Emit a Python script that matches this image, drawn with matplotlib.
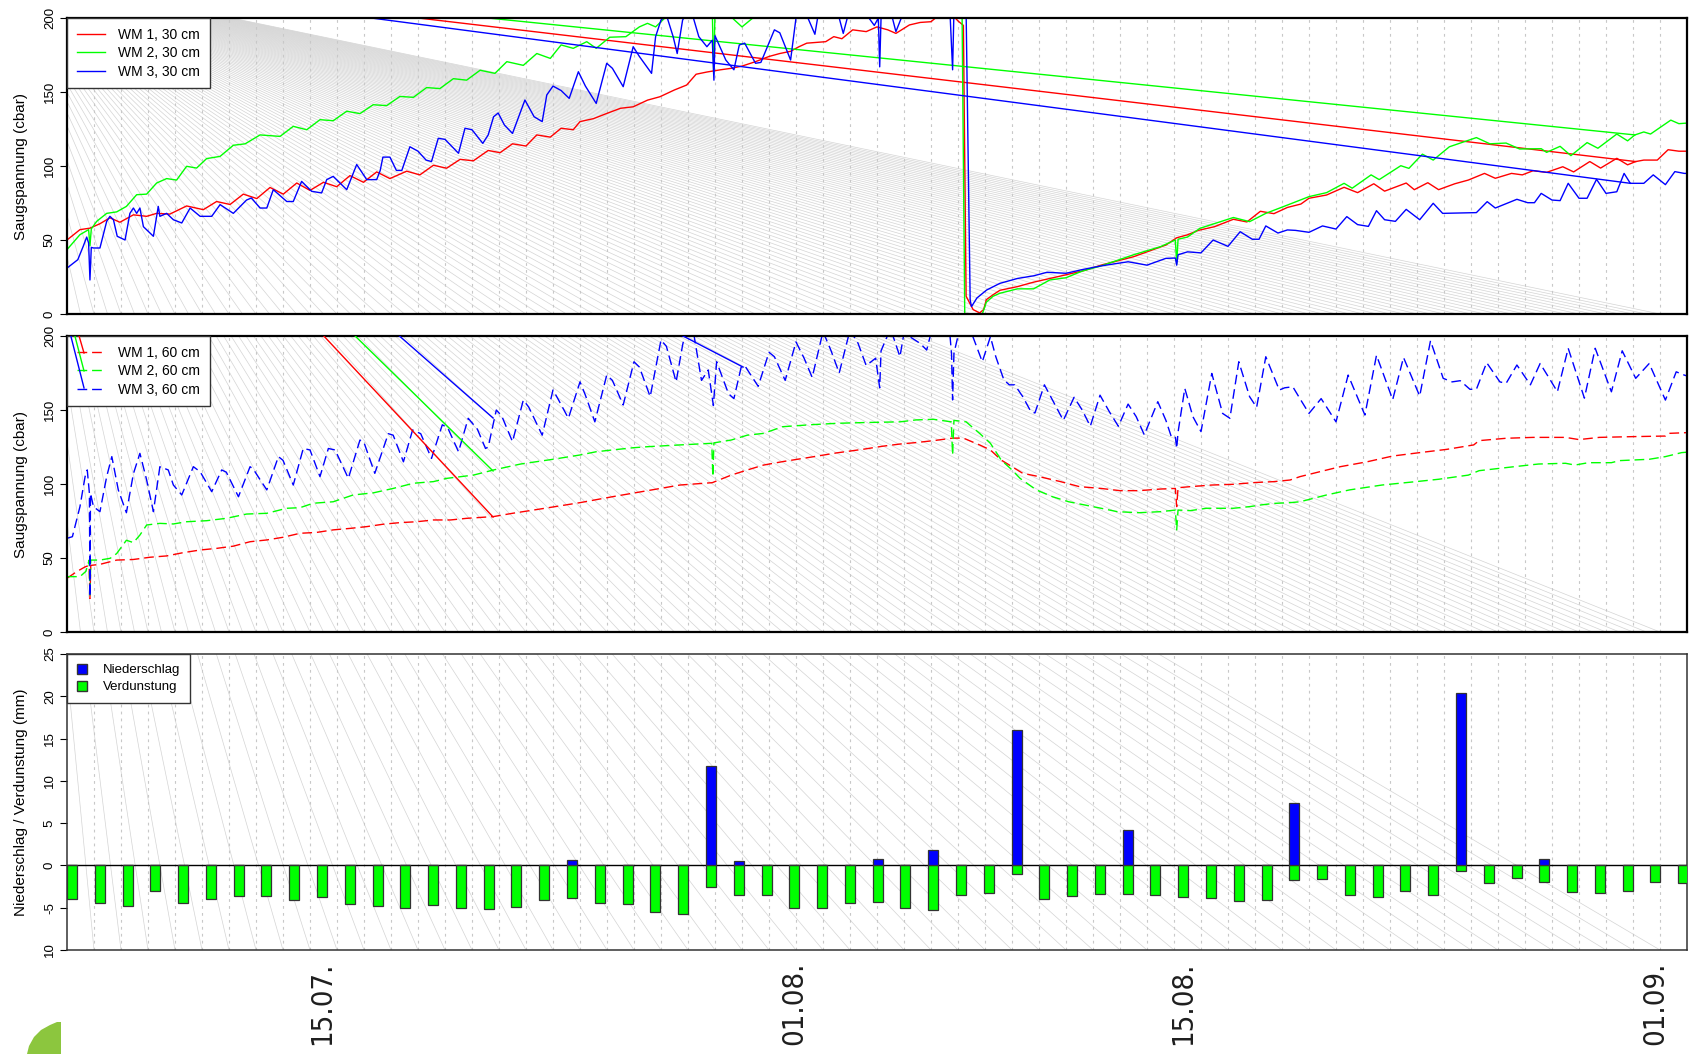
import numpy as np
import pandas as pd
import matplotlib
matplotlib.use("Agg")
import matplotlib.pyplot as plt
from matplotlib.collections import LineCollection
from matplotlib.patches import Patch, Polygon

# Messzeitraum: Tage seit 04.07. 00:00
# --- Watermark 30 cm ---
wm1_30_t = [0.0, 0.48, 0.85, 1.22, 1.59, 1.96, 2.46, 2.95, 3.32, 3.81, 4.43, 5.05, 5.54, 6.04, 6.53, 7.03, 7.52, 8.01, 8.51, 9.0,
            9.5, 9.99, 10.48, 10.98, 11.47, 11.96, 12.58, 13.07, 13.57, 14.06, 14.56, 15.05, 15.6, 16.04, 16.5, 17.0, 17.4, 17.9, 18.3, 18.75,
            19.0, 19.5, 19.99, 20.5, 20.97, 21.5, 21.96, 22.5, 22.95, 23.3, 23.7, 24.2, 24.6, 25.0, 25.5, 26.0, 26.4, 26.8, 27.1, 27.4,
            28.1, 28.4, 28.7, 29.1, 29.6, 30.0, 30.4, 30.7, 31.2, 31.6, 32.0, 32.3, 32.7, 33.0, 33.2, 33.3, 33.4, 33.56, 33.8, 33.95,
            34.05, 34.3, 34.55, 35.2, 35.8, 36.4, 37.0, 37.7, 38.3, 39.5, 40.7, 41.1, 41.5, 41.9, 42.5, 43.2, 43.7, 44.2, 44.7, 45.2,
            45.7, 46.0, 46.65, 47.3, 47.8, 48.4, 48.8, 49.6, 49.9, 50.4, 50.8, 51.4, 51.9, 52.5, 52.9, 53.5, 53.9, 54.3, 54.8, 55.4,
            55.8, 56.4, 56.8, 57.4, 57.8, 58.1, 58.4, 58.9, 59.3, 59.7, 60.0]
wm1_30_v = [50, 57, 58, 61, 65, 62, 67, 66, 68, 67.5, 73, 70.5, 76, 74, 81, 78, 85.5, 81, 88.5, 83.5,
            89, 86, 93.5, 89, 96, 91.5, 96.5, 94, 100.5, 98.5, 104.5, 103.5, 110.5, 109, 115, 113.5, 121, 119.5, 125.5, 124.5,
            130, 132, 135.5, 139, 140, 144.5, 146.8, 151.4, 154.7, 162, 163.5, 165, 166, 167.5, 170.5, 174, 176, 177.5, 180.5, 183,
            184, 187.4, 186, 192, 190.8, 194, 192, 189.6, 195.3, 197, 197.5, 202, 204, 198, 195, 12, 8.5, 3, 0.7, 3,
            9.7, 13, 16, 18.5, 21.5, 24, 26.5, 29.5, 33, 38.7, 46.6, 51.5, 53.5, 56.5, 59, 64, 62.2, 69.4, 67.8, 72,
            74.3, 78.2, 80.4, 85.6, 82, 88, 83, 88.5, 84, 88.7, 84, 88, 90.5, 95, 91.7, 95, 94, 96.8, 95.7, 99.5,
            96, 103, 98.6, 105.2, 100.8, 103, 104, 104, 111, 110, 110]

wm2_30_t = [0.0, 0.48, 0.8, 0.85, 0.9, 1.1, 1.47, 1.84, 2.2, 2.58, 2.95, 3.32, 3.69, 4.06, 4.43, 4.8, 5.17, 5.67, 6.16, 6.6,
            7.15, 7.89, 8.38, 8.88, 9.37, 9.86, 10.36, 10.85, 11.34, 11.84, 12.33, 12.83, 13.32, 13.81, 14.31, 14.8, 15.3, 15.85, 16.29, 16.9,
            17.4, 17.9, 18.3, 18.75, 19.25, 19.6, 20.1, 20.7, 21.2, 21.5, 21.8, 22.2, 22.6, 23.5, 23.9, 23.95, 24.0, 24.5, 24.7, 25.0,
            25.4, 25.8, 27.0, 30.0, 33.0, 33.15, 33.25, 33.9, 34.05, 34.3, 34.55, 35.2, 35.8, 36.4, 37.0, 37.6, 38.3, 39.5, 40.5, 41.05,
            41.1, 41.15, 41.5, 41.96, 43.2, 43.8, 44.4, 45.2, 46.0, 46.65, 47.3, 47.6, 48.3, 48.6, 49.4, 49.7, 50.2, 50.6, 51.2, 52.2,
            52.7, 53.3, 53.8, 54.6, 54.8, 55.3, 55.7, 56.3, 56.7, 57.4, 57.8, 58.07, 58.4, 58.65, 59.4, 59.7, 60.0]
wm2_30_v = [43.5, 53.6, 57, 46, 57.5, 62.6, 68, 69, 72.7, 80.6, 81, 88.5, 91.5, 90.5, 99.8, 98.6, 105, 106.5, 114, 115,
            121, 120, 126.8, 124.5, 131.3, 130.6, 137, 135.4, 141.4, 140.8, 147, 146.4, 153, 152.3, 159, 158, 164.7, 162.6, 170.5, 168,
            176, 172.7, 181.8, 179.5, 184, 179.5, 187, 187.4, 194, 196.4, 194, 201, 206, 208, 204, 162, 204, 203, 199, 194,
            200, 206, 210, 212, 208, 205, 0, 0, 8, 12, 14, 17, 17, 23, 24.5, 29, 32.5, 40, 45.5, 50,
            34, 50.5, 52, 57.9, 65.2, 62.4, 68, 73.6, 79.3, 82, 88.3, 85, 94, 90.8, 100.2, 98.4, 108, 104, 113, 119.2,
            115, 115.5, 111.5, 111.7, 109.2, 113.3, 107, 115.8, 112, 121.6, 117, 121, 123, 121.6, 131, 128.6, 129]

wm3_30_t = [0.0, 0.4, 0.6, 0.73, 0.8, 0.85, 0.9, 0.98, 1.22, 1.47, 1.59, 1.72, 1.86, 2.15, 2.33, 2.46, 2.58, 2.7, 2.83, 3.2,
            3.38, 3.44, 3.69, 3.94, 4.25, 4.56, 4.93, 5.36, 5.67, 6.16, 6.65, 6.83, 7.15, 7.4, 7.64, 8.14, 8.38, 8.69, 9.06, 9.43,
            9.62, 9.86, 10.36, 10.73, 11.1, 11.47, 11.6, 11.7, 11.96, 12.2, 12.4, 12.7, 13.0, 13.3, 13.5, 13.75, 14.0, 14.5, 14.74, 15.0,
            15.4, 15.6, 15.8, 15.97, 16.2, 16.5, 16.96, 17.3, 17.6, 17.77, 18.0, 18.3, 18.6, 18.94, 19.2, 19.6, 19.99, 20.2, 20.6, 20.97,
            21.2, 21.65, 21.8, 22.0, 22.2, 22.45, 22.6, 22.8, 23.0, 23.2, 23.4, 23.7, 23.9, 23.96, 24.0, 24.4, 24.7, 24.9, 25.1, 25.5,
            25.7, 26.2, 26.4, 26.8, 27.0, 27.3, 27.7, 27.8, 28.2, 28.6, 28.75, 28.9, 29.3, 29.7, 29.9, 30.05, 30.1, 30.15, 30.5, 30.7,
            30.9, 31.8, 32.7, 32.8, 32.85, 33.3, 33.45, 33.5, 33.7, 34.06, 34.55, 35.2, 35.8, 36.3, 37.0, 37.6, 38.3, 39.3, 40.0, 40.7,
            41.05, 41.1, 41.15, 41.5, 42.0, 42.45, 43.0, 43.45, 43.9, 44.15, 44.4, 44.85, 45.2, 45.5, 46.0, 46.5, 47.0, 47.4, 47.8, 48.2,
            48.5, 48.8, 49.2, 49.6, 50.1, 50.6, 50.95, 52.2, 52.6, 52.9, 53.7, 54.1, 54.35, 54.6, 55.0, 55.3, 55.6, 56.0, 56.3, 56.65,
            57.0, 57.4, 57.67, 57.9, 58.4, 58.75, 59.2, 59.55, 59.9, 60.0]
wm3_30_v = [31, 36.7, 45.7, 52, 48, 23, 45, 44.6, 44.6, 62.6, 66, 63.7, 52.5, 50, 68, 71.6, 68, 71.6, 59, 52.5,
            72.7, 66, 68, 63.7, 61.5, 71.6, 66, 66, 73.9, 68, 77, 78.4, 71.6, 71.6, 84, 76, 76, 89.6, 82.9, 81.8,
            90.8, 93, 84, 101, 90.8, 90.8, 97, 106, 106, 97, 97, 113, 110, 104, 103, 118.7, 118, 108.6, 125.5, 124.5,
            115.3, 121, 133.3, 135.8, 127.7, 122, 144.6, 133.3, 130, 148, 154, 151, 145.7, 163.7, 154, 142.3, 169.4, 166, 153.6, 180.6,
            174, 162.6, 187.4, 198.6, 202, 187.4, 176, 198.6, 205, 200, 187.4, 180.6, 185, 158, 188, 171.6, 165, 181.8, 183, 169.4,
            170, 192, 190, 171.6, 200, 206, 189, 200, 210, 200, 189.6, 200, 210, 200, 195, 200, 167, 200, 205, 190.8,
            200, 212, 205, 165, 205, 205, 9.5, 5, 10.8, 16.2, 20.7, 24, 25.8, 28.2, 27.5, 30, 32.5, 35.3, 33, 37.6,
            37.8, 33, 40, 42, 41.3, 50, 45.7, 55.6, 50.5, 50.5, 59.5, 54.7, 56.8, 56.5, 55.2, 59.5, 57.4, 65.8, 60.4, 59.2,
            69.8, 63.7, 62.6, 70.7, 63.7, 74.8, 68, 68.5, 75.9, 71.6, 77.5, 75.2, 75.2, 81.5, 77, 76.6, 88.3, 78.2, 78.2, 91,
            81.5, 82.6, 95, 88.3, 88.3, 94, 87.4, 96.2, 95, 95]

# Ausreisser am Anfang der Datei -> gerade Verbindungslinien
sprung_30_t = {"r": [0.0, 58.1], "g": [0.0, 58.07], "b": [0.0, 57.9]}
sprung_30_v = {"r": [228, 103], "g": [229, 121], "b": [227, 88.3]}

# --- Watermark 60 cm ---
wm1_60_t = [0.0, 0.36, 0.67, 0.82, 0.85, 0.88, 1.22, 1.84, 2.46, 3.07, 3.69, 4.3, 4.93, 5.54, 6.16, 6.78, 7.4, 8.0, 8.63, 9.25,
            9.86, 10.48, 11.1, 11.7, 12.33, 12.95, 13.57, 14.2, 14.8, 15.8, 16.5, 17.7, 19.0, 20.2, 21.5, 22.7, 23.9, 24.6, 25.2, 25.8,
            26.5, 27.5, 28.5, 29.5, 30.2, 30.85, 31.45, 32.1, 32.8, 33.2, 33.8, 34.2, 34.6, 35.0, 35.4, 36.0, 36.8, 37.5, 38.3, 39.0,
            39.7, 40.5, 41.05, 41.1, 41.15, 41.6, 42.4, 43.2, 44.0, 44.7, 45.3, 45.67, 46.4, 47.16, 48.15, 49.1, 50.1, 51.1, 52.1, 52.3,
            53.3, 54.3, 55.5, 56.0, 56.75, 57.98, 59.2, 59.3, 60.0]
wm1_60_v = [36.3, 40.8, 44, 45, 22.7, 45, 45.7, 48.6, 49, 50.5, 51.4, 53.6, 55.4, 56.5, 58, 61, 62.2, 64, 66.7, 67.3,
            69, 70, 71.2, 72.8, 73.9, 74.5, 75.7, 75.7, 76.8, 78, 80.2, 83.6, 87.4, 91.4, 95.5, 99.3, 100.9, 106, 109.5, 112.8,
            115.1, 118, 121, 123.5, 125.5, 127, 128, 129.3, 131, 131, 126.4, 123, 116.2, 111.7, 107.2, 105, 101.6, 98.2, 97, 95.5,
            95.5, 96.6, 97, 84.7, 97.5, 98.2, 99.3, 99.8, 101, 101.6, 102.7, 105, 108.3, 111.7, 115, 118.9, 121.2, 123.4, 126.4, 129.3,
            130.9, 131.5, 131.5, 130, 131.5, 132, 132.4, 134.2, 134.7]

wm2_60_t = [0.0, 0.48, 0.7, 0.82, 0.85, 0.88, 1.22, 1.6, 1.84, 2.2, 2.46, 2.7, 2.95, 3.44, 3.94, 4.43, 5.17, 5.9, 6.65, 7.4,
            8.14, 8.63, 9.12, 9.86, 10.6, 11.34, 12.08, 12.83, 13.57, 14.06, 15.05, 15.8, 16.8, 18.0, 19.0, 19.6, 20.2, 20.97, 21.5, 22.7,
            23.88, 23.92, 23.96, 24.6, 25.2, 25.8, 26.5, 27.5, 28.5, 29.5, 30.85, 31.45, 32.1, 32.75, 32.8, 32.85, 33.3, 33.8, 34.2, 34.6,
            35.0, 35.3, 35.9, 36.5, 37.1, 37.7, 38.3, 38.9, 39.7, 40.5, 41.05, 41.1, 41.15, 41.6, 42.2, 43.2, 43.8, 44.2, 44.7, 45.3,
            45.67, 46.65, 47.5, 48.7, 49.96, 50.8, 51.9, 52.3, 53.6, 54.5, 55.5, 55.85, 56.35, 57.2, 57.5, 58.6, 59.2, 59.8, 60.0]
wm2_60_v = [37.4, 37.4, 41, 48.6, 24, 48.6, 48.6, 49.8, 53, 62, 60.4, 65.5, 72.3, 73.4, 73, 74.5, 75.2, 76.8, 79.7, 80.2,
            83.6, 84, 87, 88, 92.6, 94, 97, 100.5, 101.6, 103.8, 106, 109.5, 113.5, 116.7, 119.6, 121.8, 123, 124.5, 125.2, 126.4,
            127.5, 105, 127.8, 129.7, 133, 134.2, 138.7, 140, 141, 141.5, 142, 143.3, 143.7, 142, 119.6, 143, 142, 134.2, 127.5, 116.2,
            109.5, 103.8, 96, 91.4, 88, 85.8, 83.6, 81.3, 80.6, 81.3, 82.4, 69, 82.4, 82, 83.6, 83.6, 84.7, 85.8, 86.9, 87.4,
            88, 92.6, 96, 99.3, 101.6, 103.2, 106, 109, 111.7, 113.5, 114, 112.8, 114.4, 114.4, 115.8, 116.7, 118.5, 121.2, 121.5]

wm3_60_t = [0.0, 0.2, 0.48, 0.67, 0.75, 0.83, 0.85, 0.87, 0.98, 1.22, 1.47, 1.66, 1.9, 2.2, 2.46, 2.7, 2.95, 3.2, 3.44, 3.75,
            3.94, 4.25, 4.68, 4.93, 5.36, 5.73, 5.9, 6.35, 6.78, 6.9, 7.4, 7.83, 8.0, 8.38, 8.75, 9.0, 9.37, 9.68, 9.93, 10.42,
            10.85, 11.0, 11.4, 11.9, 12.08, 12.46, 12.8, 13.1, 13.5, 13.9, 14.1, 14.5, 14.86, 15.2, 15.5, 15.6, 15.9, 16.1, 16.5, 16.9,
            17.1, 17.6, 18.0, 18.2, 18.57, 19.0, 19.2, 19.55, 19.99, 20.2, 20.6, 21.0, 21.2, 21.6, 22.0, 22.2, 22.56, 22.8, 22.9, 23.2,
            23.5, 23.75, 23.94, 24.06, 24.5, 24.7, 24.97, 25.1, 25.6, 26.0, 26.2, 26.6, 27.0, 27.3, 27.6, 28.0, 28.3, 28.6, 29.0, 29.3,
            29.6, 29.95, 30.1, 30.15, 30.5, 30.85, 31.0, 31.6, 31.84, 32.0, 32.7, 32.76, 32.8, 32.85, 33.0, 33.5, 33.9, 34.2, 34.4, 34.7,
            34.9, 35.1, 35.4, 35.7, 35.85, 36.2, 36.5, 36.9, 37.3, 37.6, 37.9, 38.26, 38.6, 38.94, 39.3, 39.6, 39.9, 40.4, 40.7, 40.9,
            41.05, 41.1, 41.15, 41.4, 41.7, 42.0, 42.4, 42.8, 43.07, 43.4, 43.8, 44.06, 44.4, 44.9, 45.1, 45.4, 45.67, 46.0, 46.45, 47.0,
            47.45, 48.07, 48.5, 49.1, 49.5, 50.1, 50.5, 50.97, 51.3, 51.6, 51.96, 52.2, 52.58, 53.07, 53.3, 53.7, 54.2, 54.56, 54.9, 55.2,
            55.6, 56.2, 56.6, 57.2, 57.6, 58.1, 58.6, 59.2, 59.6, 59.9, 60.0]
wm3_60_v = [63.3, 64.4, 84.7, 105, 109.5, 93.7, 23.9, 93.7, 84.7, 81.3, 105, 118.5, 96, 80.6, 107, 120.7, 102.7, 81.3, 111.7, 109.5,
            99.3, 92.6, 111.7, 108.3, 94.8, 109.5, 108, 91.4, 111.7, 110, 96, 118.5, 116, 99.3, 124, 123, 105, 124, 123, 103.8,
            129.7, 128, 107.2, 134, 133, 115, 136.5, 134, 117.3, 140, 138, 121.8, 144.4, 137, 124, 125, 150, 146, 128.6, 156.7,
            152, 133, 163.5, 157, 144.4, 169, 160, 142, 173.6, 170, 153.4, 182.6, 179, 159, 197.3, 193, 169, 193.9, 202, 203,
            170, 177, 153, 182.6, 161, 157.7, 179, 180, 166, 189, 186, 170, 196, 185, 172, 203, 190, 175, 204, 195,
            180, 185, 165, 190, 205, 186, 202, 195, 190.5, 202, 201, 188, 156.8, 188.3, 200, 202, 182.6, 199.5, 186, 170.3,
            167, 167, 159, 148.9, 148, 167, 156.7, 143, 158.6, 150, 139, 160, 149, 139, 154, 145.5, 133.2, 155.6, 143, 132,
            132, 124, 135, 164.6, 145.5, 135.4, 174.7, 147.7, 144.4, 182.6, 159, 151.8, 186, 163.5, 165, 165.7, 157.5, 147.7, 157.7, 142,
            173.6, 146.6, 187, 157, 185.5, 159.4, 196.8, 171.4, 169, 169.8, 164, 164, 182, 169, 168, 180.4, 167, 181.4, 171.4, 162.3,
            191.7, 158, 191.7, 162.3, 190, 171.4, 181.4, 156.7, 175.8, 173.6, 173]

# durchgezogene Verbindungsstuecke im 60-cm-Fenster
sprung_60_t = {"r": [0.40, 0.63, np.nan, 9.0, 15.78],
               "g": [0.25, 0.63, np.nan, 10.0, 15.78],
               "b": [0.10, 0.63, np.nan, 12.0, 15.78, np.nan, 22.5, 25.04]}
sprung_60_v = {"r": [203, 188.5, np.nan, 210, 77.7],
               "g": [203, 176.4, np.nan, 212, 108.8],
               "b": [203, 164.9, np.nan, 205, 144.6, np.nan, 203, 179]}

# --- Tageswerte Klima (ab 06.07.) ---
tage = pd.date_range("2014-07-06", periods=59, freq="D")
niederschlag = [0, 0, 0, 0, 0, 0, 0, 0, 0, 0, 0, 0, 0, 0, 0, 0, 0, 0, 0.6, 0,
                0, 0, 0, 11.8, 0.5, 0, 0, 0, 0, 0.8, 0, 1.8, 0, 0, 16.0, 0, 0, 0, 4.2, 0,
                0, 0, 0, 0, 7.4, 0, 0, 0, 0, 0, 20.4, 0, 0, 0.8, 0, 0, 0, 0, 0]
verdunstung = [-4.0, -4.4, -4.8, -3.0, -4.5, -4.0, -3.6, -3.6, -4.1, -3.7, -4.6, -4.8, -5.0, -4.7, -5.0, -5.2, -4.9, -4.1, -3.8, -4.5,
               -4.6, -5.5, -5.8, -2.5, -3.5, -3.5, -5.0, -5.0, -4.5, -4.3, -5.0, -5.3, -3.5, -3.3, -1.0, -4.0, -3.6, -3.4, -3.4, -3.5,
               -3.7, -3.9, -4.25, -4.1, -1.7, -1.6, -3.5, -3.7, -3.0, -3.5, -0.7, -2.1, -1.5, -2.0, -3.1, -3.3, -3.0, -2.0, -2.1]

farben = {"r": "#ff0000", "g": "#00ff00", "b": "#0000ff"}

plt.rcParams["font.family"] = ["Liberation Sans", "DejaVu Sans"]
plt.rcParams["lines.scale_dashes"] = False

W, H = 1692, 1054
fig = plt.figure(figsize=(W / 100, H / 100), dpi=100)


def px_rect(x0, y0, x1, y1):
    return [x0 / W, 1 - y1 / H, (x1 - x0) / W, (y1 - y0) / H]


ax1 = fig.add_axes(px_rect(67, 18, 1687, 314))
ax2 = fig.add_axes(px_rect(67, 336, 1687, 632))
ax3 = fig.add_axes(px_rect(67, 654, 1687, 950))

for ax in (ax1, ax2):
    ax.set_xlim(0, 60)
    ax.set_ylim(0, 200)
    ax.set_yticks([0, 50, 100, 150, 200])
ax3.set_xlim(0, 60)
ax3.set_ylim(-10, 25)
ax3.set_yticks([25, 20, 15, 10, 5, 0, -5, -10])
ax3.set_yticklabels(["25", "20", "15", "10", "5", "0", "-5", "10"])


def faecher(ax, pro_tag):
    # graue Linien, die alle von einem Punkt links oberhalb der Grafik ausgehen
    px, py = ax.transData.inverted().transform((0, H + 30))
    y0 = ax.get_ylim()[0]
    enden = np.arange(0, 59 * pro_tag + 1) / pro_tag
    segs = [[(px, py), (e, y0)] for e in enden]
    ax.add_collection(LineCollection(segs, colors="#d4d4d4", linewidths=0.5, zorder=0.5),
                      autolim=False)


faecher(ax1, 2)
faecher(ax2, 2)
faecher(ax3, 1)

for ax in (ax1, ax2, ax3):
    for d in range(1, 60):
        ax.axvline(d, color="#c8c8c8", lw=0.8, ls=(0, (2, 3)), zorder=0.6)
    ax.set_xticks([])
    ax.tick_params(axis="y", labelrotation=90, labelsize=9.5, length=5, width=0.8, pad=3)
    for lbl in ax.get_yticklabels():
        lbl.set_va("center")

legende = dict(loc="upper left", bbox_to_anchor=(0, 1), borderaxespad=0, fontsize=10,
               fancybox=False, framealpha=1, edgecolor="#333333", handlelength=2.0,
               handletextpad=1.0, labelspacing=0.32, borderpad=0.7)

# oberes Fenster: 30 cm
for key, t, v, name in (("r", wm1_30_t, wm1_30_v, "WM 1, 30 cm"),
                        ("g", wm2_30_t, wm2_30_v, "WM 2, 30 cm"),
                        ("b", wm3_30_t, wm3_30_v, "WM 3, 30 cm")):
    ax1.plot(t, v, color=farben[key], lw=1.0, label=name, zorder=2)
    ax1.plot(sprung_30_t[key], sprung_30_v[key], color=farben[key], lw=1.0, zorder=2)

leg1 = ax1.legend(**legende)
leg1.get_frame().set_linewidth(1.0)
leg1.set_zorder(5)

# mittleres Fenster: 60 cm
for key, t, v, name in (("r", wm1_60_t, wm1_60_v, "WM 1, 60 cm"),
                        ("g", wm2_60_t, wm2_60_v, "WM 2, 60 cm"),
                        ("b", wm3_60_t, wm3_60_v, "WM 3, 60 cm")):
    ax2.plot(t, v, color=farben[key], lw=1.0, ls=(0, (7, 3.5)), label=name, zorder=2)

leg2 = ax2.legend(**legende)
leg2.get_frame().set_linewidth(1.0)
leg2.set_zorder(5)
for key in ("r", "g", "b"):
    ax2.plot(sprung_60_t[key], sprung_60_v[key], color=farben[key], lw=1.0, zorder=6)

for ax in (ax1, ax2):
    for sp in ax.spines.values():
        sp.set_linewidth(1.6)
        sp.set_color("black")

# unteres Fenster: Niederschlag / Verdunstung
ax3.axhline(0, color="black", lw=1.0, zorder=1)
axb = ax3.twiny()
axb.set_xlim(0, 1620 / 27.78)
x = np.arange(len(tage))
axb.bar(x, verdunstung, width=0.36, align="edge", color="#00ff00", edgecolor="#333333",
        linewidth=0.9, label="Verdunstung", zorder=3)
axb.bar(x, niederschlag, width=0.36, align="edge", color="#0000ff", edgecolor="#333333",
        linewidth=0.9, label="Niederschlag", zorder=3)
for sp in list(axb.spines.values()):
    sp.set_visible(False)
for sp in ax3.spines.values():
    sp.set_linewidth(1.1)
    sp.set_color("#333333")

marke = [i for i, d in enumerate(tage) if d.day in (1, 15)]
axb.xaxis.tick_bottom()
axb.set_xticks(x[marke] + 0.18)
axb.set_xticklabels([tage[i].strftime("%d.%m.") for i in marke])
axb.tick_params(axis="x", length=0, pad=8, labelrotation=90, labelsize=21, labelcolor="#1e1e1e")
for lbl in axb.get_xticklabels():
    lbl.set_fontfamily("DejaVu Sans")
    lbl.set_fontstretch("condensed")

hand = [Patch(facecolor="#0000ff", edgecolor="#333333", label="Niederschlag"),
        Patch(facecolor="#00ff00", edgecolor="#333333", label="Verdunstung")]
leg3 = axb.legend(handles=hand, loc="upper left", bbox_to_anchor=(0, 1), borderaxespad=0,
                  fontsize=9.5, fancybox=False, framealpha=1, edgecolor="#333333",
                  handlelength=0.75, handleheight=0.75, handletextpad=1.2, labelspacing=0.35,
                  borderpad=0.75)
leg3.get_frame().set_linewidth(1.0)

# Achsentitel
fig.text(21 / W, 1 - 166 / H, "Saugspannung (cbar)", rotation=90, ha="center", va="center", fontsize=11)
fig.text(21 / W, 1 - 484 / H, "Saugspannung (cbar)", rotation=90, ha="center", va="center", fontsize=11)
fig.text(21 / W, 1 - 802 / H, "Niederschlag / Verdunstung (mm)", rotation=90, ha="center", va="center",
         fontsize=11)

# Blatt-Logo unten links
blatt = [(61, 1022), (61, 1054), (27, 1054), (29, 1046), (34, 1037), (41, 1030), (50, 1025), (57, 1022)]
fig.add_artist(Polygon([(bx / W, 1 - by / H) for bx, by in blatt], closed=True,
                       transform=fig.transFigure, facecolor="#8cc63e", edgecolor="none"))

fig.savefig("out.png", dpi=100)
